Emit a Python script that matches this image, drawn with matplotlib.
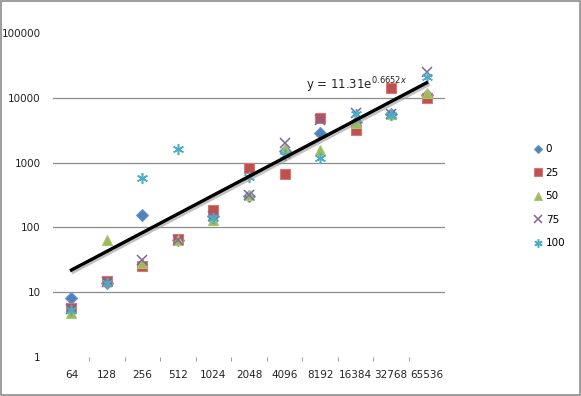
import matplotlib
matplotlib.use("Agg")
import matplotlib.pyplot as plt
import matplotlib.patheffects as pe
from matplotlib.patches import Rectangle
import numpy as np

categories = ["64", "128", "256", "512", "1024", "2048", "4096", "8192", "16384", "32768", "65536"]
series_names = ["0", "25", "50", "75", "100"]
s0 = [8.2, 14, 155, 65, 150, 310, 1500, 2850, 4200, 5600, 11000]
s25 = [5.8, 15, 25, 66, 185, 820, 670, 4900, 3200, 14000, 10000]
s50 = [4.8, 65, 28, 63, 128, 320, 1650, 1560, 4100, 5700, 11800]
s75 = [5.5, 14.5, 31, 65, 150, 320, 2000, 4500, 5800, 5600, 25000]
s100 = [5.3, 14, 580, 1650, 140, 600, 1300, 1180, 5600, 5500, 21000]
trend_a = 11.31
trend_b = 0.6652
y_ticks = [1, 10, 100, 1000, 10000, 100000]
grid_levels = [10, 100, 1000, 10000]

colors = ["#4F81BD", "#C0504D", "#9BBB59", "#8064A2", "#4BACC6"]
edges = ["#6A96CC", "#D77873", "#A9C76D", "#9A84BA", "#4BACC6"]
markers = ["D", "s", "^", "x", (6, 2, 0)]
sizes = [6, 7, 7, 7, 8]

fig = plt.figure(figsize=(5.81, 3.96), dpi=100)
ax = fig.add_axes([53/581, 39/396, 392/581, 324/396])

x = np.arange(len(categories))
all_series = [s0, s25, s50, s75, s100]
handles = []
for vals, name, c, ec, m, ms in zip(all_series, series_names, colors, edges, markers, sizes):
    if m in ("x", (6, 2, 0)):
        h, = ax.plot(x, vals, linestyle="none", marker=m, markersize=ms,
                     color=c, markeredgewidth=1.1, label=name, zorder=3)
    else:
        h, = ax.plot(x, vals, linestyle="none", marker=m, markersize=ms,
                     markerfacecolor=c, markeredgecolor=ec, markeredgewidth=0.8,
                     label=name, zorder=3)
    handles.append(h)

# exponential trendline (x counted from 1 like Excel)
tx = np.linspace(1, len(categories), 100)
ty = trend_a * np.exp(trend_b * tx)
ax.plot(tx - 1, ty, color="black", linewidth=2.4, zorder=4,
        path_effects=[pe.SimpleLineShadow(offset=(1.2, -1.5), shadow_color="#999999", alpha=0.6),
                      pe.Normal()])
ax.text(6.6, 13500, r"y = 11.31e$^{0.6652x}$", fontsize=8.5, color="#222222",
        ha="left", va="baseline", zorder=5)

ax.set_yscale("log")
ax.set_ylim(1, 100000)
ax.set_xlim(-0.52, 10.52)
for g in grid_levels:
    ax.axhline(g, color="#8c8c8c", linewidth=0.9, zorder=1)

ax.set_yticks(y_ticks)
ax.set_yticklabels([str(v) for v in y_ticks], fontsize=7.5, color="#222222")
ax.yaxis.set_minor_locator(matplotlib.ticker.NullLocator())
ax.tick_params(axis="y", length=0, pad=9)

ax.set_xticks(x)
ax.set_xticklabels(categories, fontsize=7.5, color="#222222")
ax.set_xticks(np.arange(len(categories) - 1) + 0.5, minor=True)
ax.tick_params(axis="x", which="major", length=0, pad=9)
ax.tick_params(axis="x", which="minor", length=3, color="#8c8c8c", direction="out")

for sp in ax.spines.values():
    sp.set_visible(False)

fig.legend(handles=handles, labels=series_names, loc="upper left",
           bbox_to_anchor=(530/581, 1 - 140/396), frameon=False,
           fontsize=7.5, labelspacing=1.3, handlelength=0.8, handletextpad=0.3,
           markerscale=0.75, borderaxespad=0)

fig.patches.append(Rectangle((0.001, 0.002), 0.997, 0.995, transform=fig.transFigure,
                             fill=False, edgecolor="#8c8c8c", linewidth=1.2))

fig.savefig("out.png", dpi=100)
